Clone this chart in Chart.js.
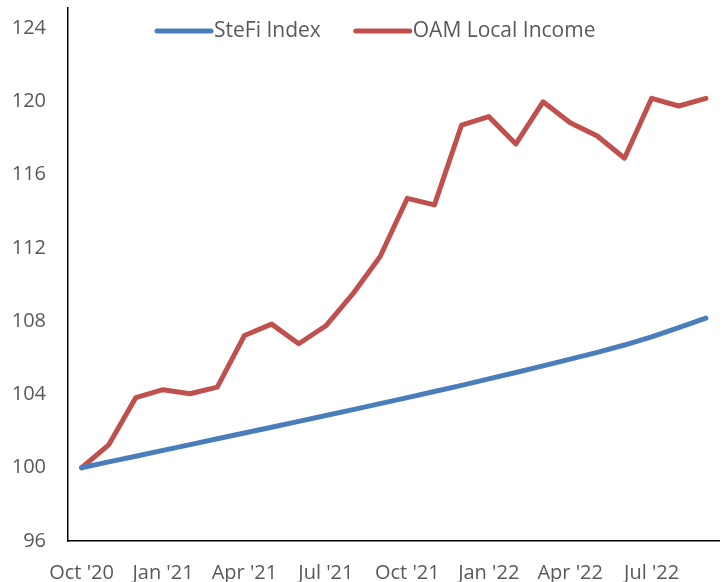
<!DOCTYPE html>
<html>
<head>
<meta charset="utf-8">
<script src="https://cdn.jsdelivr.net/npm/chart.js@4"></script>
<style>
  html, body { margin: 0; padding: 0; background: #fff; }
  #wrap { width: 726px; height: 582px; }
</style>
</head>
<body>
<div id="wrap"><canvas id="chart" width="726" height="582"></canvas></div>
<script>
var months = ["Oct '20", "Nov '20", "Dec '20", "Jan '21", "Feb '21", "Mar '21", "Apr '21", "May '21",
    "Jun '21", "Jul '21", "Aug '21", "Sep '21", "Oct '21", "Nov '21", "Dec '21", "Jan '22",
    "Feb '22", "Mar '22", "Apr '22", "May '22", "Jun '22", "Jul '22", "Aug '22", "Sep '22"];

var stefi = [100, 100.32, 100.63, 100.95, 101.26, 101.58, 101.9, 102.21, 102.53, 102.85, 103.17, 103.5,
    103.83, 104.16, 104.5, 104.85, 105.2, 105.56, 105.93, 106.3, 106.7, 107.15, 107.65, 108.17];

var oamIncome = [100, 101.25, 103.83, 104.26, 104.04, 104.4, 107.22, 107.84, 106.77, 107.75, 109.5, 111.53,
    114.71, 114.35, 118.71, 119.17, 117.68, 119.98, 118.84, 118.11, 116.9, 120.17, 119.75, 120.17];

var yTicks = [96, 100, 104, 108, 112, 116, 120, 124];

var seriesNames = ["SteFi Index", "OAM Local Income"];
var seriesColors = ["#4a7ebb", "#c0504d"];

var FONT = "'Open Sans', 'Liberation Sans', sans-serif";
var TEXT = '#595959';

// legend drawn on top of the plot area, like the original
var lineLegend = {
    id: 'lineLegend',
    afterDraw: function (chart) {
        var c = chart.ctx;
        var x = 157, y = 31;
        c.save();
        c.font = '21px ' + FONT;
        c.textBaseline = 'middle';
        chart.data.datasets.forEach(function (ds) {
            c.strokeStyle = ds.borderColor;
            c.lineWidth = 5;
            c.lineCap = 'round';
            c.beginPath();
            c.moveTo(x, y);
            c.lineTo(x + 54, y);
            c.stroke();
            c.fillStyle = TEXT;
            c.fillText(ds.label, x + 57, y);
            x += 57 + c.measureText(ds.label).width + 35;
        });
        c.restore();
    }
};

new Chart(document.getElementById('chart').getContext('2d'), {
    type: 'line',
    data: {
        labels: months,
        datasets: [{
            label: seriesNames[0],
            data: stefi,
            borderColor: seriesColors[0],
            backgroundColor: seriesColors[0],
            borderWidth: 5,
            borderJoinStyle: 'round',
            borderCapStyle: 'round',
            pointRadius: 0,
            tension: 0
        }, {
            label: seriesNames[1],
            data: oamIncome,
            borderColor: seriesColors[1],
            backgroundColor: seriesColors[1],
            borderWidth: 5,
            borderJoinStyle: 'round',
            borderCapStyle: 'round',
            pointRadius: 0,
            tension: 0
        }]
    },
    options: {
        responsive: false,
        animation: false,
        layout: { padding: { top: 8, right: 5, left: 0, bottom: 0 } },
        plugins: {
            legend: { display: false },
            tooltip: { enabled: false }
        },
        scales: {
            x: {
                offset: true,
                grid: { display: false, drawTicks: false },
                border: { display: true, color: '#000', width: 1.5 },
                ticks: {
                    autoSkip: false,
                    maxRotation: 0,
                    padding: 20,
                    color: TEXT,
                    font: { family: FONT, size: 20 },
                    callback: function (v, i) { return i % 3 === 0 ? months[i] : ''; }
                },
                afterFit: function (s) { s.height = 41; }
            },
            y: {
                min: 96,
                max: 125.1,
                grid: { display: false, drawTicks: false },
                border: { display: true, color: '#000', width: 1.5 },
                ticks: {
                    padding: 22,
                    color: TEXT,
                    font: { family: FONT, size: 20 }
                },
                afterBuildTicks: function (s) {
                    s.ticks = yTicks.map(function (v) { return { value: v }; });
                },
                afterFit: function (s) {
                    s.width = 68;
                    s.paddingTop = 0;
                    s.paddingBottom = 0;
                }
            }
        }
    },
    plugins: [lineLegend]
});
</script>
</body>
</html>
